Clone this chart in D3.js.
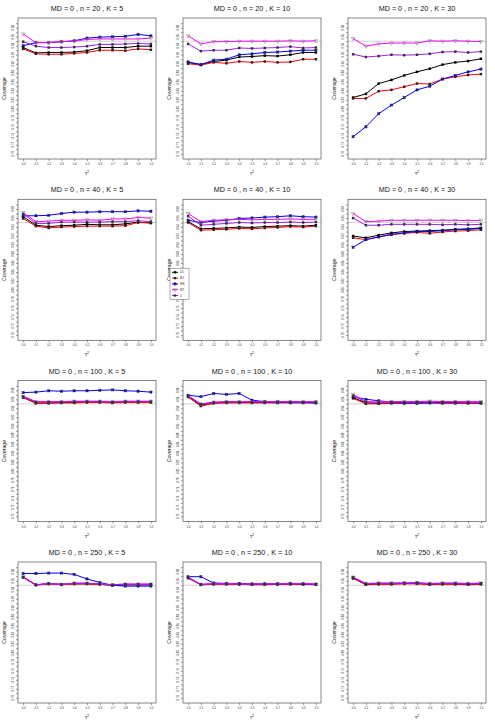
<!DOCTYPE html>
<html><head><meta charset="utf-8">
<script src="https://cdn.jsdelivr.net/npm/d3@7"></script>
<style>body{margin:0;background:#fff}svg{display:block}</style>
</head><body>
<script>
const tau = [0,0.1,0.2,0.3,0.4,0.5,0.6,0.7,0.8,0.9,1.0];
const tauLabels = ["0.0","0.1","0.2","0.3","0.4","0.5","0.6","0.7","0.8","0.9","1.0"];
const panelN = [20,20,20,40,40,40,100,100,100,250,250,250];
const panelK = [5,10,30,5,10,30,5,10,30,5,10,30];
const seriesNames = ["DL","BJ","HK","BT","J"];
const yTicks = [0.70,0.71,0.72,0.73,0.74,0.75,0.76,0.77,0.78,0.79,0.80,0.81,0.82,0.83,0.84,0.85,0.86,0.87,0.88,0.89,0.90,0.91,0.92,0.93,0.94,0.95,0.96,0.97,0.98,0.99];
const yLabels = [0.70,0.72,0.74,0.76,0.78,0.80,0.82,0.84,0.86,0.88,0.90,0.92,0.94,0.96,0.98];
const nominal = 0.95;

// coverage per panel (12 panels x 11 tau values)
const covDL = [
 [0.936,0.924,0.925,0.925,0.926,0.929,0.936,0.936,0.936,0.939,0.939],
 [0.903,0.898,0.905,0.908,0.915,0.916,0.918,0.917,0.920,0.925,0.925],
 [0.825,0.833,0.856,0.864,0.874,0.882,0.889,0.898,0.903,0.906,0.911],
 [0.963,0.944,0.941,0.943,0.944,0.946,0.945,0.945,0.947,0.951,0.949],
 [0.952,0.936,0.937,0.938,0.940,0.939,0.941,0.942,0.943,0.942,0.944],
 [0.920,0.916,0.922,0.927,0.930,0.931,0.932,0.933,0.935,0.936,0.938],
 [0.965,0.952,0.952,0.953,0.953,0.954,0.954,0.953,0.954,0.954,0.954],
 [0.966,0.947,0.952,0.953,0.953,0.953,0.953,0.953,0.953,0.953,0.953],
 [0.964,0.952,0.951,0.952,0.952,0.952,0.953,0.952,0.952,0.952,0.953],
 [0.968,0.951,0.953,0.952,0.953,0.953,0.952,0.950,0.951,0.951,0.951],
 [0.966,0.951,0.953,0.953,0.952,0.952,0.952,0.952,0.953,0.952,0.952],
 [0.966,0.952,0.953,0.953,0.954,0.954,0.952,0.953,0.953,0.952,0.953]
];
const covBJ = [
 [0.933,0.922,0.921,0.921,0.923,0.925,0.930,0.930,0.929,0.933,0.931],
 [0.900,0.897,0.903,0.901,0.905,0.903,0.905,0.903,0.904,0.910,0.910],
 [0.823,0.823,0.839,0.842,0.849,0.856,0.855,0.866,0.871,0.875,0.877],
 [0.959,0.942,0.938,0.940,0.941,0.942,0.942,0.942,0.943,0.950,0.949],
 [0.950,0.933,0.934,0.935,0.937,0.936,0.938,0.939,0.941,0.940,0.942],
 [0.916,0.912,0.918,0.923,0.926,0.928,0.926,0.929,0.931,0.932,0.934],
 [0.964,0.951,0.951,0.952,0.952,0.953,0.953,0.952,0.953,0.953,0.953],
 [0.965,0.945,0.951,0.952,0.952,0.952,0.952,0.952,0.952,0.952,0.952],
 [0.962,0.950,0.950,0.951,0.951,0.951,0.952,0.951,0.951,0.951,0.951],
 [0.967,0.950,0.953,0.951,0.953,0.953,0.952,0.950,0.951,0.951,0.951],
 [0.966,0.951,0.952,0.952,0.952,0.951,0.951,0.952,0.952,0.952,0.951],
 [0.965,0.951,0.952,0.952,0.953,0.953,0.951,0.952,0.952,0.951,0.952]
];
const covHK = [
 [0.940,0.947,0.947,0.949,0.951,0.957,0.959,0.960,0.961,0.965,0.962],
 [0.904,0.898,0.908,0.910,0.920,0.922,0.925,0.926,0.928,0.930,0.930],
 [0.738,0.760,0.789,0.808,0.825,0.842,0.850,0.866,0.874,0.882,0.888],
 [0.965,0.965,0.966,0.970,0.973,0.973,0.974,0.974,0.974,0.976,0.975],
 [0.955,0.950,0.953,0.955,0.959,0.960,0.962,0.963,0.965,0.963,0.962],
 [0.895,0.912,0.918,0.924,0.927,0.930,0.930,0.932,0.934,0.935,0.937],
 [0.975,0.976,0.979,0.978,0.979,0.979,0.980,0.981,0.979,0.978,0.976],
 [0.969,0.966,0.973,0.971,0.973,0.958,0.955,0.954,0.953,0.953,0.952],
 [0.966,0.960,0.957,0.953,0.952,0.952,0.952,0.953,0.953,0.953,0.952],
 [0.976,0.976,0.977,0.977,0.974,0.964,0.956,0.950,0.948,0.948,0.948],
 [0.969,0.969,0.955,0.954,0.954,0.953,0.953,0.953,0.954,0.953,0.952],
 [0.967,0.953,0.954,0.954,0.955,0.955,0.953,0.954,0.954,0.953,0.954]
];
const covBT = [
 [0.966,0.947,0.947,0.949,0.950,0.954,0.955,0.955,0.955,0.955,0.957],
 [0.962,0.944,0.949,0.949,0.950,0.950,0.950,0.950,0.951,0.950,0.951],
 [0.956,0.939,0.944,0.946,0.946,0.946,0.951,0.950,0.951,0.950,0.949],
 [0.972,0.952,0.953,0.955,0.955,0.956,0.955,0.958,0.958,0.961,0.960],
 [0.970,0.952,0.955,0.956,0.957,0.956,0.957,0.957,0.958,0.957,0.957],
 [0.970,0.952,0.953,0.955,0.955,0.955,0.955,0.955,0.955,0.954,0.955],
 [0.967,0.955,0.955,0.955,0.956,0.956,0.956,0.955,0.956,0.956,0.956],
 [0.968,0.950,0.954,0.955,0.955,0.955,0.955,0.955,0.955,0.955,0.955],
 [0.971,0.955,0.954,0.955,0.955,0.955,0.956,0.955,0.955,0.955,0.955],
 [0.969,0.951,0.954,0.952,0.955,0.955,0.953,0.951,0.953,0.953,0.953],
 [0.968,0.952,0.954,0.954,0.953,0.953,0.953,0.953,0.954,0.954,0.953],
 [0.968,0.954,0.955,0.955,0.955,0.956,0.954,0.955,0.955,0.954,0.955]
];
const covJ = [
 [0.949,0.939,0.936,0.936,0.937,0.939,0.943,0.943,0.944,0.945,0.944],
 [0.944,0.928,0.930,0.930,0.935,0.934,0.935,0.936,0.938,0.935,0.936],
 [0.921,0.915,0.917,0.920,0.919,0.920,0.922,0.926,0.927,0.925,0.927],
 [0.969,0.948,0.948,0.951,0.951,0.951,0.951,0.952,0.952,0.954,0.952],
 [0.964,0.944,0.946,0.948,0.950,0.949,0.950,0.950,0.951,0.950,0.951],
 [0.960,0.944,0.944,0.946,0.946,0.946,0.946,0.945,0.946,0.945,0.946],
 [0.966,0.954,0.954,0.954,0.955,0.955,0.955,0.954,0.955,0.955,0.955],
 [0.967,0.949,0.953,0.954,0.954,0.954,0.954,0.954,0.954,0.954,0.954],
 [0.968,0.954,0.953,0.954,0.954,0.954,0.954,0.954,0.954,0.953,0.953],
 [0.968,0.951,0.954,0.952,0.954,0.954,0.953,0.951,0.952,0.952,0.952],
 [0.967,0.952,0.953,0.953,0.953,0.952,0.953,0.953,0.953,0.953,0.952],
 [0.967,0.953,0.954,0.954,0.954,0.955,0.953,0.954,0.954,0.953,0.954]
];

const seriesData = [covDL, covBJ, covHK, covBT, covJ];
const lineColors = ["#000000","#ff0000","#0000ff","#ff00ff","#a020f0"];
const markColors = ["#000000","#222222","#1a1a6e","#777777","#333333"];
const markShapes = [d3.symbolSquare, d3.symbolSquare, d3.symbolCross, d3.symbolTriangle, d3.symbolSquare];

const W = 495, H = 726;
const svg = d3.select("body").append("svg").attr("width", W).attr("height", H)
  .style("font-family","'Liberation Sans', Arial, sans-serif");

const colX = [0, 165, 330];
const rowY = [0, 181.3, 362.6, 544];
const box = {l:18, r:156, t:18, b:159};

const x = d3.scaleLinear().domain([-0.04, 1.04]).range([box.l, box.r]);
const y = d3.scaleLinear().domain([0.70 - 0.0116, 0.99 + 0.0116]).range([box.b, box.t]);

for (let p = 0; p < 12; p++) {
  const g = svg.append("g").attr("transform", `translate(${colX[p%3]},${rowY[Math.floor(p/3)]})`);

  g.append("text").attr("x", (box.l+box.r)/2).attr("y", 11)
    .attr("text-anchor","middle").attr("font-size", 7.2).attr("fill","#111")
    .text(`MD = 0 , n = ${panelN[p]} , K = ${panelK[p]}`);

  // y axis: all ticks
  const ya = g.append("g").attr("transform", `translate(${box.l},0)`)
    .call(d3.axisLeft(y).tickValues(yTicks).tickSize(2).tickFormat(() => null));
  ya.select(".domain").remove();
  ya.selectAll("text").remove();
  ya.selectAll("line").attr("stroke","#333").attr("stroke-width",0.5);
  // y labels (every other tick)
  g.selectAll(null).data(yLabels).enter().append("text")
    .attr("transform", d => `translate(${box.l-4.5},${y(d)}) rotate(-90)`)
    .attr("text-anchor","middle").attr("font-size",2.8).attr("fill","#333")
    .text(d => d.toFixed(2));

  // x axis
  const xa = g.append("g").attr("transform", `translate(0,${box.b})`)
    .call(d3.axisBottom(x).tickValues(tau).tickSize(2).tickPadding(2)
      .tickFormat((d,i) => tauLabels[i]));
  xa.select(".domain").remove();
  xa.selectAll("line").attr("stroke","#333").attr("stroke-width",0.5);
  xa.selectAll("text").attr("font-size",2.8).attr("fill","#333");

  // axis titles
  g.append("text").attr("transform", `translate(5.5,${(box.t+box.b)/2}) rotate(-90)`)
    .attr("text-anchor","middle").attr("font-size",5.2).attr("fill","#111").text("Coverage");
  g.append("text").attr("x",(box.l+box.r)/2).attr("y",175)
    .attr("text-anchor","middle").attr("font-size",5.5).attr("fill","#111")
    .html("τ<tspan dy='-2' font-size='3.6'>2</tspan>");

  // nominal line
  g.append("line").attr("x1", box.l).attr("x2", box.r)
    .attr("y1", y(nominal)).attr("y2", y(nominal))
    .attr("stroke","#c8c8c8").attr("stroke-width",0.8);

  // series
  for (let s = 0; s < 5; s++) {
    const vals = seriesData[s][p];
    const line = d3.line().x((d,i) => x(tau[i])).y(d => y(d));
    g.append("path").datum(vals).attr("d", line).attr("fill","none")
      .attr("stroke", lineColors[s]).attr("stroke-width", 1);
    g.selectAll(null).data(vals).enter().append("path")
      .attr("transform", (d,i) => `translate(${x(tau[i])},${y(d)})` + (s===3 ? " rotate(180)" : (s===2 ? " rotate(45)" : "")))
      .attr("d", d3.symbol().type(markShapes[s]).size(s===2 ? 5 : 6))
      .attr("fill", s===3 ? "none" : markColors[s])
      .attr("stroke", s===3 ? markColors[s] : (s===2 ? markColors[s] : "none"))
      .attr("stroke-width", 0.5);
  }

  // box
  g.append("rect").attr("x", box.l).attr("y", box.t)
    .attr("width", box.r-box.l).attr("height", box.b-box.t)
    .attr("fill","none").attr("stroke","#555").attr("stroke-width",0.7);

  // legend in panel 5
  if (p === 4) {
    const lg = g.append("g").attr("transform","translate(5,87)");
    lg.append("rect").attr("x",0).attr("y",0).attr("width",19).attr("height",31)
      .attr("fill","#fff").attr("stroke","#666").attr("stroke-width",0.5);
    seriesNames.forEach((nm, s) => {
      const yy = 4 + s*5.8;
      lg.append("line").attr("x1",2).attr("x2",8).attr("y1",yy).attr("y2",yy)
        .attr("stroke", lineColors[s]).attr("stroke-width",1);
      lg.append("path").attr("transform",`translate(5,${yy})` + (s===3?" rotate(180)":(s===2?" rotate(45)":"")))
        .attr("d", d3.symbol().type(markShapes[s]).size(5))
        .attr("fill", s===3 ? "none" : markColors[s])
        .attr("stroke", s===3||s===2 ? markColors[s] : "none").attr("stroke-width",0.5);
      lg.append("text").attr("x",10).attr("y",yy+1.2).attr("font-size",3.4).attr("fill","#333").text(nm);
    });
  }
}
</script>
</body></html>
